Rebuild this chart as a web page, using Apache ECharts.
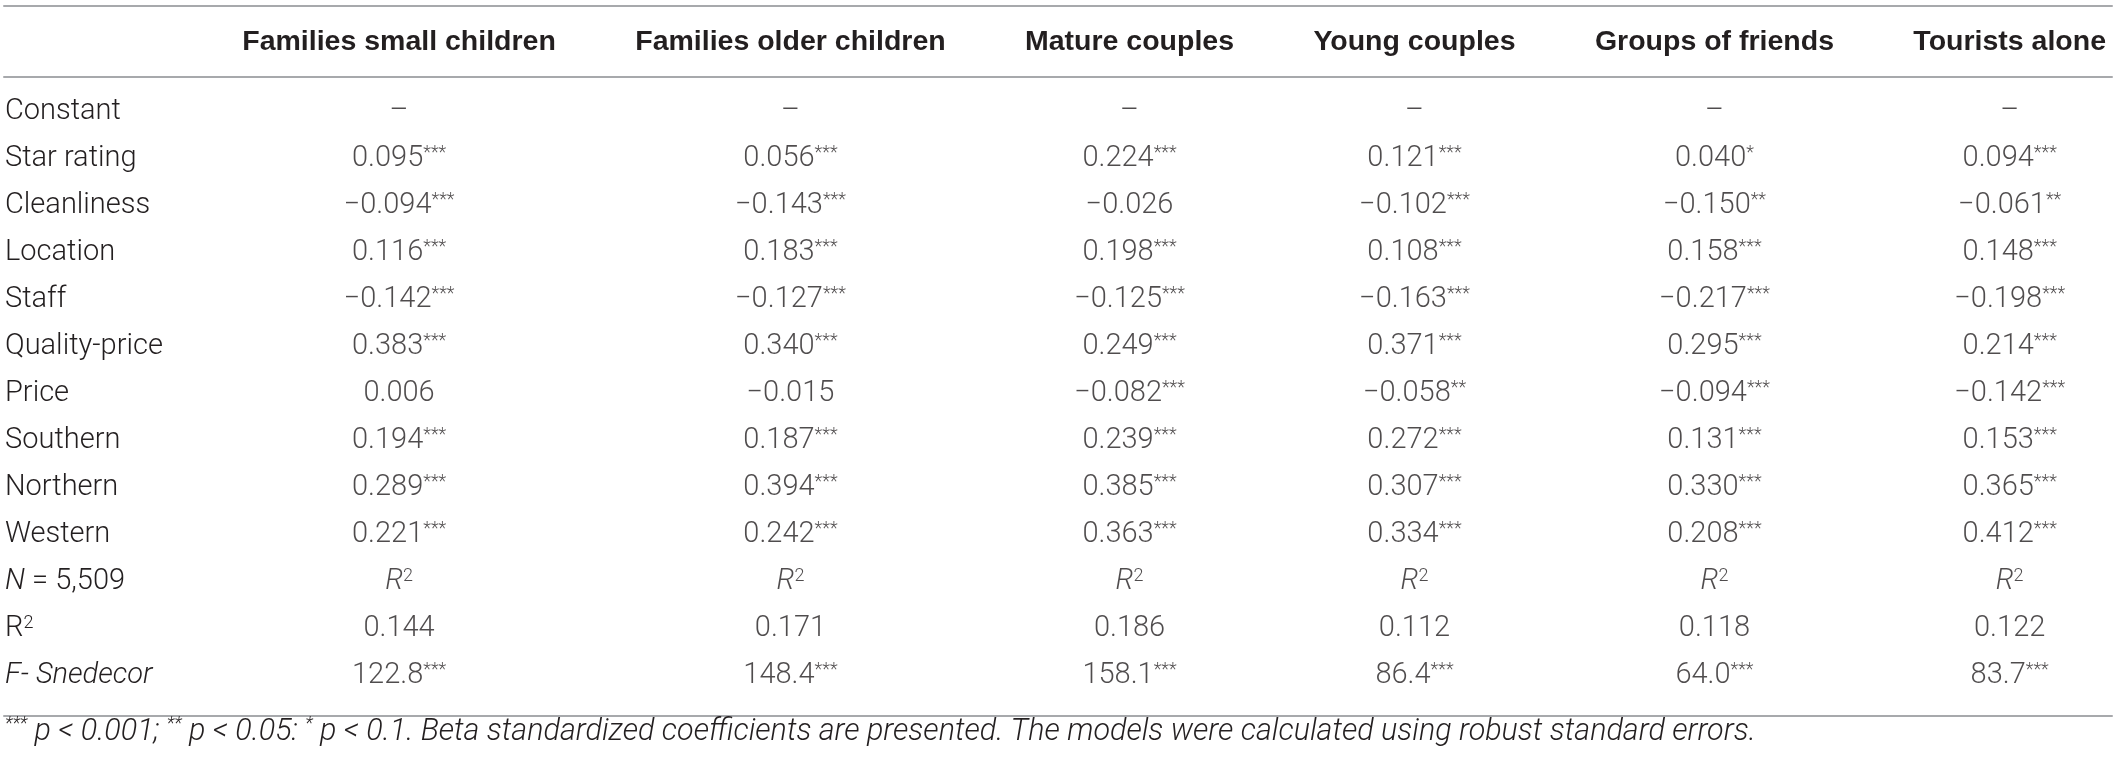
<!DOCTYPE html>
<html><head><meta charset="utf-8">
<script src="https://cdn.jsdelivr.net/npm/echarts@6/dist/echarts.min.js"></script>
<style>html,body{margin:0;padding:0;background:#fff}#c{width:2117px;height:764px}</style>
</head><body><div id="c"></div>
<script>
// ---------- data ----------
const columnHeaders = ['Families small children', 'Families older children', 'Mature couples', 'Young couples', 'Groups of friends', 'Tourists alone'];
const rowLabels = ['Constant', 'Star rating', 'Cleanliness', 'Location', 'Staff', 'Quality-price', 'Price', 'Southern', 'Northern', 'Western', 'N = 5,509', 'R2', 'F- Snedecor'];
const familiesSmallChildren = ['–', '0.095***', '−0.094***', '0.116***', '−0.142***', '0.383***', '0.006', '0.194***', '0.289***', '0.221***', 'R²', '0.144', '122.8***'];
const familiesOlderChildren = ['–', '0.056***', '−0.143***', '0.183***', '−0.127***', '0.340***', '−0.015', '0.187***', '0.394***', '0.242***', 'R²', '0.171', '148.4***'];
const matureCouples = ['–', '0.224***', '−0.026', '0.198***', '−0.125***', '0.249***', '−0.082***', '0.239***', '0.385***', '0.363***', 'R²', '0.186', '158.1***'];
const youngCouples = ['–', '0.121***', '−0.102***', '0.108***', '−0.163***', '0.371***', '−0.058**', '0.272***', '0.307***', '0.334***', 'R²', '0.112', '86.4***'];
const groupsOfFriends = ['–', '0.040*', '−0.150**', '0.158***', '−0.217***', '0.295***', '−0.094***', '0.131***', '0.330***', '0.208***', 'R²', '0.118', '64.0***'];
const touristsAlone = ['–', '0.094***', '−0.061**', '0.148***', '−0.198***', '0.214***', '−0.142***', '0.153***', '0.365***', '0.412***', 'R²', '0.122', '83.7***'];
const columnValues = [familiesSmallChildren, familiesOlderChildren, matureCouples, youngCouples, groupsOfFriends, touristsAlone];
const footnoteText = '{s|***}{i| p < 0.001; }{s|**}{i| p < 0.05: }{s|*}{i| p < 0.1. Beta standardized coefficients are presented. The models were calculated using robust standard errors.}';

// ---------- styles ----------
const INK = '#231f20';
const RULE = '#a7a9ac';
const BODY_FAMILY = 'Roboto';
const BODY_WEIGHT = 300;
const BODY_SIZE = 29;
const HEAD_FAMILY = '"Liberation Sans", Arial, sans-serif';
const HEAD_SIZE = 28.5;
const FOOT_SIZE = 30.5;
const W = 2117;
const gridLeft = 4, gridRight = 5;
const gridW = W - gridLeft - gridRight;

// ---------- table layout from measured text widths ----------
const ctx = document.createElement('canvas').getContext('2d');
function textW(t, font) { ctx.font = font; return ctx.measureText(t).width; }
const bodyFont = BODY_WEIGHT + ' ' + BODY_SIZE + 'px ' + BODY_FAMILY;
const headFont = 'bold ' + HEAD_SIZE + 'px ' + HEAD_FAMILY;
const labelColW = Math.max(...rowLabels.map(l => textW(l, bodyFont)));
const headW = columnHeaders.map(h => textW(h, headFont));
const tableStart = 1, tableEnd = gridW - 6;
const gap = (tableEnd - tableStart - labelColW - headW.reduce((a, b) => a + b, 0)) / columnHeaders.length;
const colCenters = [];
let cursor = tableStart + labelColW;
headW.forEach(w => { cursor += gap; colCenters.push(cursor + w / 2); cursor += w; });

// ---------- rich text helpers ----------
const richBody = {
  n: { fontFamily: BODY_FAMILY, fontWeight: BODY_WEIGHT, fontSize: BODY_SIZE, color: INK, lineHeight: 30 },
  i: { fontFamily: BODY_FAMILY, fontWeight: BODY_WEIGHT, fontStyle: 'italic', fontSize: BODY_SIZE, color: INK, lineHeight: 30 },
  s: { fontFamily: BODY_FAMILY, fontWeight: BODY_WEIGHT, fontSize: 18, color: INK, lineHeight: 17, verticalAlign: 'top' }
};
function cellRich(str) {
  if (str === 'R²') return '{i|R}{s|2}';
  const m = /^(.*?)(\*+)$/.exec(str);
  if (m) return '{n|' + m[1] + '}{s|' + m[2] + '}';
  return '{n|' + str + '}';
}
function rowRich(label) {
  if (label === 'N = 5,509') return '{i|N}{n| = 5,509}';
  if (label === 'R2') return '{n|R}{s|2}';
  if (label === 'F- Snedecor') return '{i|F- Snedecor}';
  return '{n|' + label + '}';
}

const series = columnValues.map((vals, j) => ({
  type: 'scatter',
  xAxisIndex: 0, yAxisIndex: 0,
  symbolSize: 0,
  silent: true,
  data: vals.map((v, i) => ({ value: [colCenters[j], i], name: v })),
  label: {
    show: true, position: 'inside', align: 'center', verticalAlign: 'middle',
    formatter: p => cellRich(p.name), rich: richBody
  },
  emphasis: { disabled: true }
}));

const chart = echarts.init(document.getElementById('c'), null, { renderer: 'canvas' });
chart.setOption({
  backgroundColor: '#ffffff',
  animation: false,
  title: {
    left: 5, top: 715,
    text: footnoteText,
    textStyle: {
      rich: {
        i: { fontFamily: BODY_FAMILY, fontWeight: BODY_WEIGHT, fontStyle: 'italic', fontSize: FOOT_SIZE, color: INK, lineHeight: 34 },
        s: { fontFamily: BODY_FAMILY, fontWeight: BODY_WEIGHT, fontStyle: 'italic', fontSize: 18, color: INK, lineHeight: 18, verticalAlign: 'top' }
      }
    },
    padding: 0
  },
  grid: { left: gridLeft, right: gridRight, top: 77, bottom: 48 },
  xAxis: [
    { type: 'value', position: 'bottom', min: 0, max: gridW,
      axisLine: { show: true, onZero: false, lineStyle: { color: RULE, width: 2 } },
      axisTick: { show: false }, axisLabel: { show: false }, splitLine: { show: false } },
    { type: 'value', position: 'top', min: 0, max: gridW,
      axisLine: { show: true, onZero: false, lineStyle: { color: RULE, width: 2 } },
      axisTick: { show: false }, splitLine: { show: false },
      axisLabel: {
        show: true, customValues: colCenters, margin: 20,
        fontFamily: HEAD_FAMILY, fontWeight: 'bold', fontSize: HEAD_SIZE, color: INK, lineHeight: 30,
        formatter: (v) => {
          let best = 0;
          colCenters.forEach((c, k) => { if (Math.abs(c - v) < Math.abs(colCenters[best] - v)) best = k; });
          return columnHeaders[best];
        }
      } },
    { type: 'value', position: 'top', offset: 71, min: 0, max: gridW,
      axisLine: { show: true, onZero: false, lineStyle: { color: RULE, width: 2 } },
      axisTick: { show: false }, axisLabel: { show: false }, splitLine: { show: false } }
  ],
  yAxis: {
    type: 'value', inverse: true, min: -0.75, max: 12.85,
    axisLine: { show: false }, axisTick: { show: false }, splitLine: { show: false },
    axisLabel: {
      show: true, inside: true, margin: 1, align: 'left',
      customValues: rowLabels.map((_, i) => i),
      formatter: (v) => rowRich(rowLabels[Math.round(v)]),
      rich: richBody
    }
  },
  series: series
});
</script>
</body></html>
